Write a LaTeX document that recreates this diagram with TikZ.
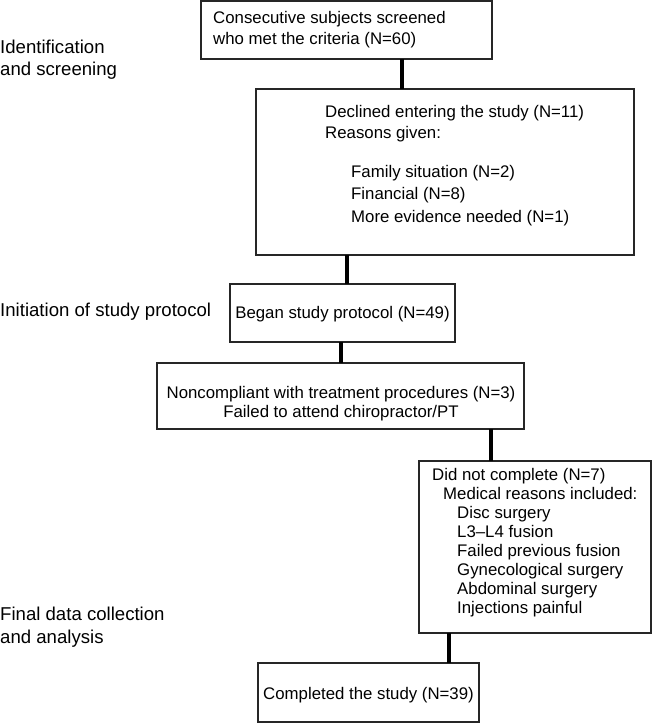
\documentclass[tikz,border=0pt]{standalone}
\usepackage{fontspec}
\setmainfont{Liberation Sans}
\begin{document}
\begin{tikzpicture}[x=1pt,y=-1pt,
  box/.style={draw=black!85, line width=1.1pt, inner sep=0pt, outer sep=0pt, rectangle},
  conn/.style={line width=3.4pt, black},
  txt/.style={inner sep=0pt, anchor=base west, font=\fontsize{16.8}{20}\selectfont},
  ctxt/.style={txt, anchor=base},
  lbl/.style={inner sep=0pt, anchor=base west, font=\fontsize{18.6}{22}\selectfont}]
\useasboundingbox (0,0) rectangle (653,723);

% boxes
\node[box, minimum width=291pt, minimum height=58pt] (b1) at (346.5,30) {};
\node[box, minimum width=378pt, minimum height=166pt] (b2) at (445,172) {};
\node[box, minimum width=225pt, minimum height=58pt] (b3) at (342.5,313) {};
\node[box, minimum width=367pt, minimum height=66pt] (b4) at (340.5,396) {};
\node[box, minimum width=232pt, minimum height=172pt] (b5) at (535,547) {};
\node[box, minimum width=221pt, minimum height=59pt] (b6) at (368.5,692.5) {};

% stage labels
\node[lbl] (l1a) at (0,53.7) {Identification};
\node[lbl] (l1b) at (0,75.7) {and screening};
\node[lbl] (l2) at (0,316.7) {Initiation of study protocol};
\node[lbl] (l3a) at (0,620.7) {Final data collection};
\node[lbl] (l3b) at (0,643.7) {and analysis};

% box 1
\node[txt] (t1a) at (213,23) {Consecutive subjects screened};
\node[txt] (t1b) at (213,44) {who met the criteria (N=60)};

% box 2
\node[txt] (t2a) at (325,117) {Declined entering the study (N=11)};
\node[txt] (t2b) at (325,138) {Reasons given:};
\node[txt] (t2c) at (351,177) {Family situation (N=2)};
\node[txt] (t2d) at (351,199) {Financial (N=8)};
\node[txt] (t2e) at (351,222) {More evidence needed (N=1)};

% box 3
\node[ctxt] (t3) at (342.5,318) {Began study protocol (N=49)};

% box 4
\node[ctxt] (t4a) at (341,398) {Noncompliant with treatment procedures (N=3)};
\node[ctxt] (t4b) at (341,417) {Failed to attend chiropractor/PT};

% box 5
\node[txt] (t5a) at (432,480) {Did not complete (N=7)};
\node[txt] (t5b) at (443,499) {Medical reasons included:};
\node[txt] (t5c) at (457,518) {Disc surgery};
\node[txt] (t5d) at (457,537) {L3–L4 fusion};
\node[txt] (t5e) at (457,556) {Failed previous fusion};
\node[txt] (t5f) at (457,575) {Gynecological surgery};
\node[txt] (t5g) at (457,594) {Abdominal surgery};
\node[txt] (t5h) at (457,613) {Injections painful};

% box 6
\node[ctxt] (t6) at (368.5,699) {Completed the study (N=39)};

% connector columns
\coordinate (c1) at (402,0);
\coordinate (c2) at (347,0);
\coordinate (c3) at (341,0);
\coordinate (c4) at (491,0);
\coordinate (c5) at (449,0);

\draw[conn] (b1.south -| c1) -- (b2.north -| c1);
\draw[conn] (b2.south -| c2) -- (b3.north -| c2);
\draw[conn] (b3.south -| c3) -- (b4.north -| c3);
\draw[conn] (b4.south -| c4) -- (b5.north -| c4);
\draw[conn] (b5.south -| c5) -- (b6.north -| c5);
\end{tikzpicture}
\end{document}
